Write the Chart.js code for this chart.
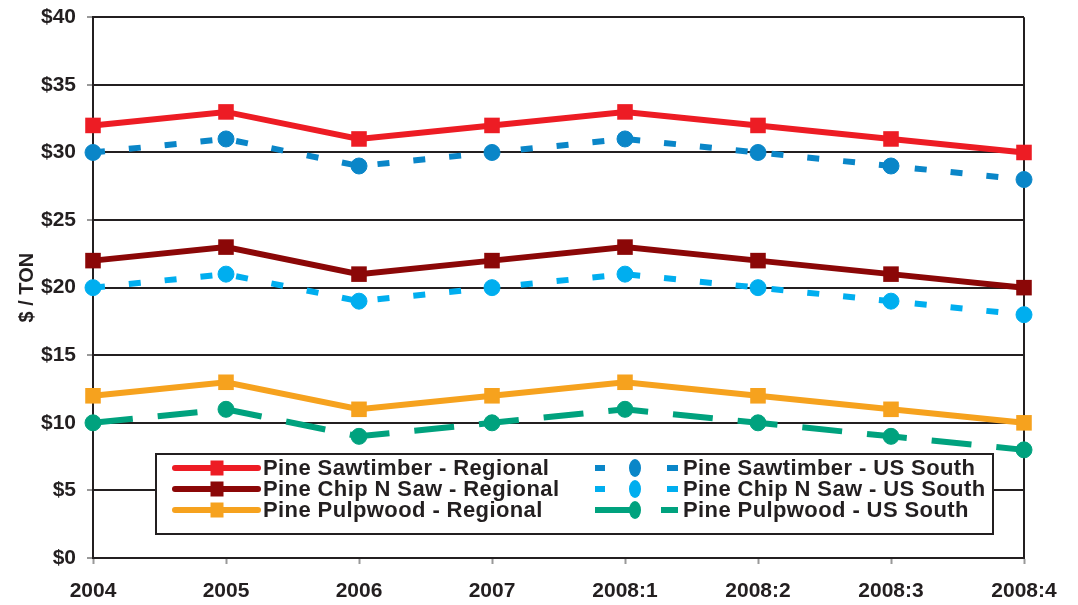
<!DOCTYPE html>
<html>
<head>
<meta charset="utf-8">
<script src="https://cdn.jsdelivr.net/npm/chart.js@4"></script>
<style>
    body { margin: 0; background: #fff; }
    #wrap { width: 1078px; height: 605px; }
</style>
</head>
<body>
<div id="wrap"><canvas id="priceChart" width="1078" height="605"></canvas></div>
<script>
// Pine stumpage prices, $ per ton

const periods = ['2004', '2005', '2006', '2007', '2008:1', '2008:2', '2008:3', '2008:4'];

const sawRegional  = [32, 33, 31, 32, 33, 32, 31, 30];
const sawSouth     = [30, 31, 29, 30, 31, 30, 29, 28];
const cnsRegional  = [22, 23, 21, 22, 23, 22, 21, 20];
const cnsSouth     = [20, 21, 19, 20, 21, 20, 19, 18];
const pulpRegional = [12, 13, 11, 12, 13, 12, 11, 10];
const pulpSouth    = [10, 11, 9, 10, 11, 10, 9, 8];

const seriesLabels = [
    'Pine Sawtimber - Regional', 'Pine Sawtimber - US South',
    'Pine Chip N Saw - Regional', 'Pine Chip N Saw - US South',
    'Pine Pulpwood - Regional', 'Pine Pulpwood - US South'
];

const yMin = 0, yMax = 40, yStep = 5;

const ink = '#231f20';
const font = "'Liberation Sans', Arial, sans-serif";

Chart.defaults.font.family = font;
Chart.defaults.color = ink;

function regional(label, data, color) {
    return {
        label, data,
        borderColor: color, backgroundColor: color,
        borderWidth: 6, tension: 0,
        pointStyle: 'rect', pointRadius: 11,
        pointBackgroundColor: color, pointBorderColor: color, pointBorderWidth: 0,
        clip: false
    };
}

function south(label, data, color, dash) {
    return {
        label, data,
        borderColor: color, backgroundColor: color,
        borderWidth: 6, tension: 0, borderDash: dash,
        pointStyle: 'circle', pointRadius: 8,
        pointBackgroundColor: color, pointBorderColor: color, pointBorderWidth: 1,
        clip: false
    };
}

// right edge of the plot frame
const frameEdge = {
    id: 'frameEdge',
    beforeDatasetsDraw(chart) {
        const { ctx, chartArea: a } = chart;
        ctx.save();
        ctx.strokeStyle = ink;
        ctx.lineWidth = 2;
        ctx.beginPath();
        ctx.moveTo(a.right, a.top);
        ctx.lineTo(a.right, a.bottom);
        ctx.stroke();
        ctx.restore();
    }
};

// boxed legend inside the plot, two columns
const boxLegend = {
    id: 'boxLegend',
    afterDatasetsDraw(chart) {
        const ctx = chart.ctx;
        const box = { left: 156, top: 454, right: 993, bottom: 534 };
        const rowY = [468, 489, 510];
        const cols = [
            { start: 175, mark: 217, end: 258, text: 263 },
            { start: 595, mark: 635, end: 678, text: 683 }
        ];

        ctx.save();
        ctx.fillStyle = '#fff';
        ctx.fillRect(box.left, box.top, box.right - box.left, box.bottom - box.top);
        ctx.strokeStyle = ink;
        ctx.lineWidth = 2;
        ctx.strokeRect(box.left, box.top, box.right - box.left, box.bottom - box.top);

        chart.data.datasets.forEach((ds, i) => {
            const c = cols[i % 2];
            const y = rowY[Math.floor(i / 2)];
            ctx.strokeStyle = ds.borderColor;
            ctx.fillStyle = ds.borderColor;
            ctx.lineWidth = 6;

            if (!ds.borderDash) {
                ctx.lineCap = 'round';
                ctx.beginPath();
                ctx.moveTo(c.start, y);
                ctx.lineTo(c.end, y);
                ctx.stroke();
                ctx.fillRect(c.mark - 6.5, y - 7.5, 13, 15);
            } else {
                ctx.lineCap = 'butt';
                const segs = ds.borderDash[0] > 20
                    ? [[c.start, c.mark], [c.end - 17, c.end]]
                    : [[c.start, c.start + 10], [c.end - 11, c.end]];
                segs.forEach(([x0, x1]) => {
                    ctx.beginPath();
                    ctx.moveTo(x0, y);
                    ctx.lineTo(x1, y);
                    ctx.stroke();
                });
                ctx.beginPath();
                ctx.ellipse(c.mark, y, 6, 9, 0, 0, Math.PI * 2);
                ctx.fill();
            }

            ctx.fillStyle = ink;
            ctx.font = `bold 22px ${font}`;
            ctx.letterSpacing = '0.4px';
            ctx.textBaseline = 'middle';
            ctx.textAlign = 'left';
            ctx.fillText(ds.label, c.text, y + 1);
        });
        ctx.restore();
    }
};

new Chart(document.getElementById('priceChart'), {
    type: 'line',
    data: {
        labels: periods,
        datasets: [
            regional(seriesLabels[0], sawRegional, '#ed1c24'),
            south(seriesLabels[1], sawSouth, '#0a86c8', [12, 24]),
            regional(seriesLabels[2], cnsRegional, '#8b0707'),
            south(seriesLabels[3], cnsSouth, '#00aeef', [12, 24]),
            regional(seriesLabels[4], pulpRegional, '#f6a21e'),
            south(seriesLabels[5], pulpSouth, '#00a27e', [40, 25])
        ]
    },
    options: {
        responsive: false,
        animation: false,
        layout: { padding: { top: 16, right: 54, left: 0, bottom: 0 } },
        plugins: {
            legend: { display: false },
            tooltip: { enabled: false }
        },
        scales: {
            x: {
                offset: false,
                ticks: {
                    color: ink,
                    font: { size: 21, weight: 'bold' },
                    padding: 15,
                    maxRotation: 0,
                    autoSkip: false
                },
                grid: { drawOnChartArea: false, tickColor: '#999', tickLength: 6, tickWidth: 2 },
                border: { color: ink, width: 2 },
                afterFit: s => { s.height = 47; }
            },
            y: {
                min: yMin,
                max: yMax,
                ticks: {
                    stepSize: yStep,
                    color: ink,
                    font: { size: 21, weight: 'bold', lineHeight: 0.6 },
                    padding: 11,
                    callback: v => '$' + v
                },
                grid: { color: ink, lineWidth: 2, tickColor: '#999', tickLength: 6, tickWidth: 2 },
                border: { color: ink, width: 2 },
                title: {
                    display: true,
                    text: '$ / TON',
                    color: ink,
                    font: { size: 20, weight: 'bold' },
                    padding: { top: 15, bottom: 0 }
                },
                afterFit: s => { s.width = 93; }
            }
        }
    },
    plugins: [frameEdge, boxLegend]
});
</script>
</body>
</html>
